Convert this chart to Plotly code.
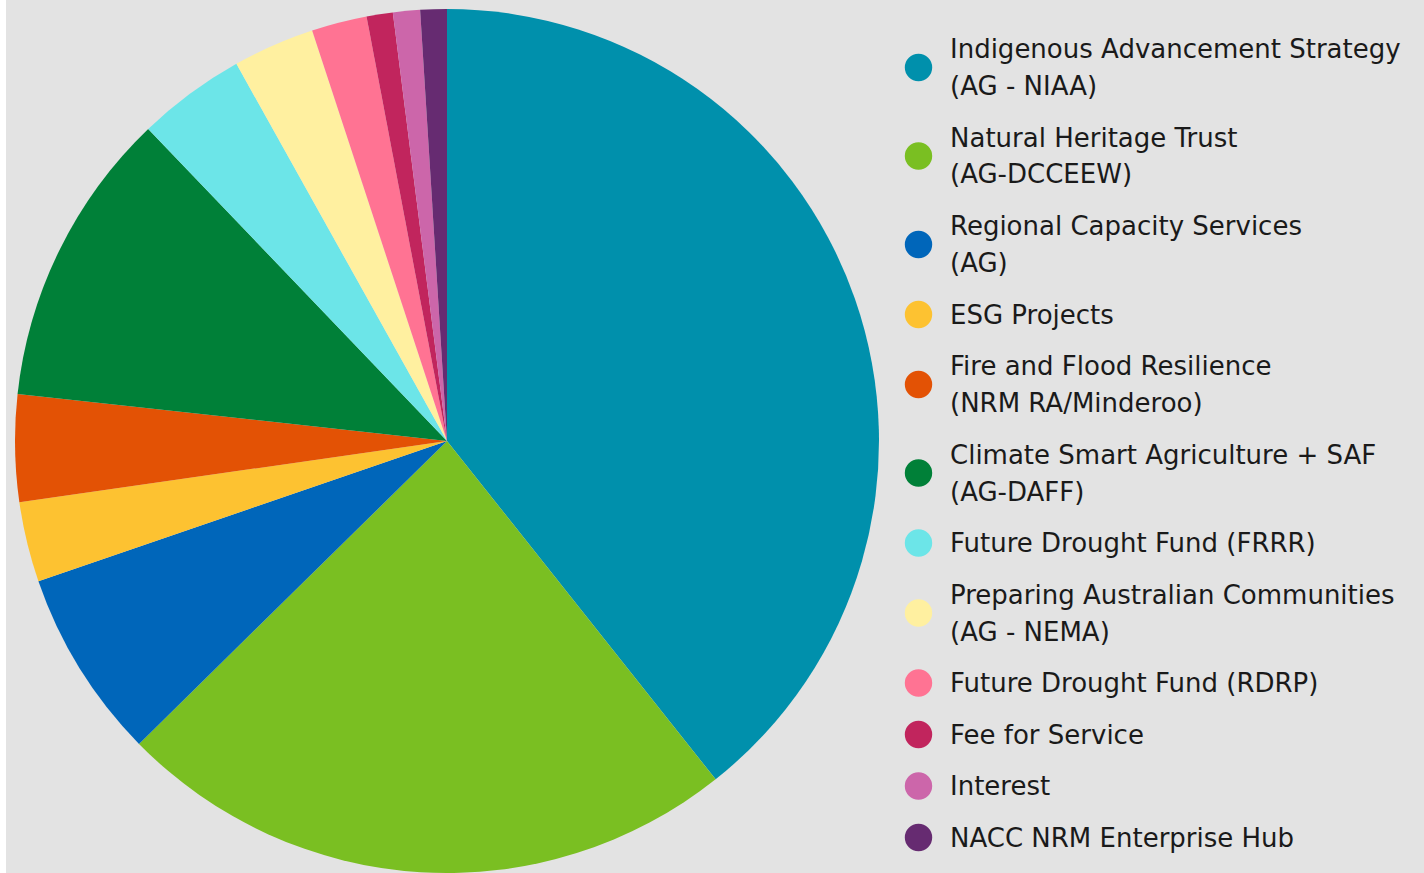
import plotly.graph_objects as go

categories = [
    "Indigenous Advancement Strategy\n(AG - NIAA)",
    "Natural Heritage Trust\n(AG-DCCEEW)",
    "Regional Capacity Services\n(AG)",
    "ESG Projects",
    "Fire and Flood Resilience\n(NRM RA/Minderoo)",
    "Climate Smart Agriculture + SAF\n(AG-DAFF)",
    "Future Drought Fund (FRRR)",
    "Preparing Australian Communities\n(AG - NEMA)",
    "Future Drought Fund (RDRP)",
    "Fee for Service",
    "Interest",
    "NACC NRM Enterprise Hub",
]
values = [39.3, 23.3, 7.1, 3.0, 4.0, 11.1, 4.05, 3.05, 2.07, 0.98, 1.01, 0.99]
colors = [
    "#0090AC", "#7ABF22", "#0066BA", "#FDC231", "#E35205", "#008038",
    "#6CE5E8", "#FFF0A0", "#FF7393", "#C1255D", "#CC66AA", "#662B71",
]

W, H = 1424, 873
BG = "#E3E3E3"

# pie geometry (pixels)
cx, cy, r = 447, 441, 432

fig = go.Figure()
fig.add_trace(go.Pie(
    labels=[c.replace("\n", " ") for c in categories],
    values=values,
    marker=dict(colors=colors, line=dict(width=0)),
    sort=False,
    direction="clockwise",
    rotation=0,
    textinfo="none",
    showlegend=False,
    domain=dict(x=[(cx - r) / W, (cx + r) / W], y=[1 - (cy + r) / H, 1 - (cy - r) / H]),
))

# custom legend with round markers
shapes = [dict(type="rect", xref="paper", yref="paper", x0=0, x1=6 / W, y0=0, y1=1,
               fillcolor="white", line=dict(width=0), layer="below")]
annotations = []
line_h, gap, yc = 37, 14.5, 67.5
dot_x, dot_r, text_x = 918.5, 13.7, 948
prev_n = None
for cat, col in zip(categories, colors):
    lines = cat.split("\n")
    n = len(lines)
    if prev_n is not None:
        yc += prev_n * line_h / 2 + n * line_h / 2 + gap
    prev_n = n
    shapes.append(dict(type="circle", xref="paper", yref="paper",
                       x0=(dot_x - dot_r) / W, x1=(dot_x + dot_r) / W,
                       y0=1 - (yc + dot_r) / H, y1=1 - (yc - dot_r) / H,
                       fillcolor=col, line=dict(width=0)))
    top = yc - (n - 1) * line_h / 2
    for i, ln in enumerate(lines):
        ly = top + i * line_h
        annotations.append(dict(text=ln, xref="paper", yref="paper", x=text_x / W,
                                y=1 - ly / H, xanchor="left", yanchor="middle",
                                showarrow=False,
                                font=dict(family="DejaVu Sans", size=26, color="#1A1A1A")))

fig.update_layout(
    width=W, height=H,
    margin=dict(l=0, r=0, t=0, b=0),
    paper_bgcolor=BG, plot_bgcolor=BG,
    shapes=shapes, annotations=annotations,
)
fig.write_html("out.html", config={"displayModeBar": False},
               post_script="document.body.style.margin='0';")
